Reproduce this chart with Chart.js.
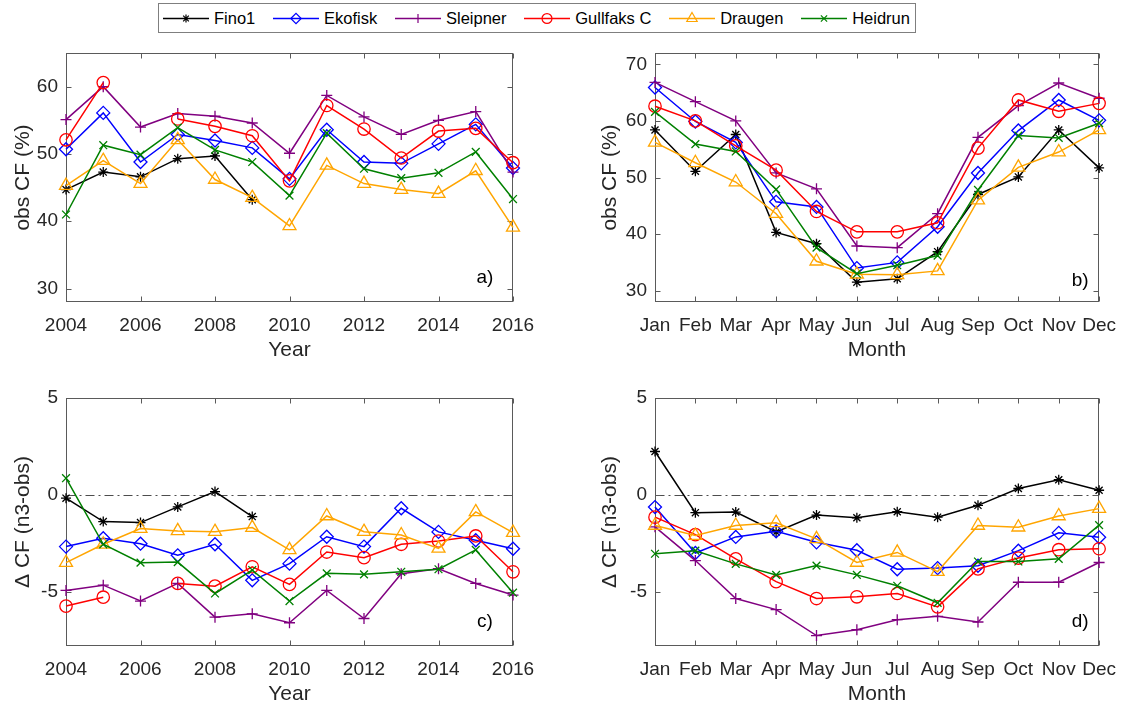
<!DOCTYPE html>
<html>
<head>
<meta charset="utf-8">
<script src="https://cdn.jsdelivr.net/npm/chart.js@4.4.1/dist/chart.umd.min.js"></script>
<style>
  html, body { margin: 0; padding: 0; background: #fff; }
  body { width: 1128px; height: 709px; position: relative; overflow: hidden; font-family: "Liberation Sans", Arial, sans-serif; }
  canvas.panel { position: absolute; }
  #legend { position: absolute; left: 158px; top: 3px; width: 758px; height: 30px; box-sizing: border-box;
            border: 1px solid #7f7f7f; background: #fff; display: flex; align-items: center;
            justify-content: space-between; padding: 0 5px 0 4px;
            font-size: 16.5px; color: #000; z-index: 2; white-space: nowrap; }
  .item { display: flex; align-items: center; flex-shrink: 0; }
  .item canvas { margin-right: 5px; }
</style>
</head>
<body>
<div id="legend"></div>
<canvas class="panel" id="pa" width="564" height="365" style="left:0;top:0"></canvas>
<canvas class="panel" id="pb" width="564" height="365" style="left:564px;top:0"></canvas>
<canvas class="panel" id="pc" width="564" height="364" style="left:0;top:345px"></canvas>
<canvas class="panel" id="pd" width="564" height="364" style="left:564px;top:345px"></canvas>
<script>
// ---- data ----
const sites = ['Fino1', 'Ekofisk', 'Sleipner', 'Gullfaks C', 'Draugen', 'Heidrun'];
const years = [2004, 2005, 2006, 2007, 2008, 2009, 2010, 2011, 2012, 2013, 2014, 2015, 2016];
const months = ['Jan', 'Feb', 'Mar', 'Apr', 'May', 'Jun', 'Jul', 'Aug', 'Sep', 'Oct', 'Nov', 'Dec'];

const yearTicks = [2004, 2006, 2008, 2010, 2012, 2014, 2016];
const obsYearTicks = [30, 40, 50, 60];
const obsMonthTicks = [30, 40, 50, 60, 70];
const diffTicks = [-5, 0, 5];

// a) observed CF per year, rows in the order of `sites`
const obsByYear = [
  [44.7, 47.3, 46.6, 49.3, 49.7, 43.2, null, null, null, null, null, null, null],
  [50.7, 56.1, 48.8, 52.9, 52.0, 50.9, 46.3, 53.6, 48.8, 48.6, 51.5, 54.4, 47.9],
  [55.1, 60.0, 54.0, 56.0, 55.6, 54.6, 50.1, 58.7, 55.5, 52.9, 55.0, 56.3, 47.3],
  [52.1, 60.6, null, 55.2, 54.1, 52.7, 46.0, 57.2, 53.7, 49.4, 53.4, 53.8, 48.7],
  [45.3, 49.0, 45.6, 52.1, 46.2, 43.5, 39.3, 48.3, 45.6, 44.7, 44.1, 47.5, 39.1],
  [41.0, 51.3, 49.9, 53.9, 50.6, 48.8, 43.8, 53.1, 47.8, 46.4, 47.2, 50.3, 43.3]
];

// b) observed CF per month
const obsByMonth = [
  [58.4, 51.1, 57.6, 40.3, 38.3, 31.5, 32.1, 36.9, 47.0, 50.1, 58.4, 51.7],
  [65.9, 59.9, 56.2, 45.7, 44.8, 34.0, 35.0, 41.3, 50.8, 58.3, 63.7, 60.1],
  [66.8, 63.4, 60.0, 50.8, 48.0, 37.9, 37.6, 43.6, 57.1, 62.7, 66.7, 64.0],
  [62.6, 60.0, 55.6, 51.3, 44.0, 40.4, 40.4, 42.0, 55.2, 63.7, 61.7, 63.1],
  [56.2, 52.6, 49.2, 43.6, 35.2, 32.9, 32.8, 33.5, 46.0, 51.8, 54.5, 58.4],
  [61.6, 55.9, 54.6, 47.9, 37.6, 33.0, 34.5, 36.2, 47.8, 57.4, 57.0, 59.6]
];

// c) CF difference (n3 - obs) per year
const diffByYear = [
  [-0.17, -1.38, -1.43, -0.62, 0.17, -1.12, null, null, null, null, null, null, null],
  [-2.67, -2.24, -2.52, -3.12, -2.55, -4.41, -3.55, -2.16, -2.67, -0.69, -1.91, -2.34, -2.78],
  [-4.93, -4.66, -5.48, -4.57, -6.31, -6.14, -6.60, -4.93, -6.38, -4.07, -3.81, -4.57, -5.17],
  [-5.74, -5.28, null, -4.57, -4.71, -3.71, -4.62, -2.95, -3.24, -2.55, -2.38, -2.12, -3.97],
  [-3.50, -2.55, -1.74, -1.86, -1.90, -1.69, -2.84, -1.09, -1.90, -2.07, -2.76, -0.88, -1.95],
  [0.86, -2.55, -3.50, -3.47, -5.09, -3.88, -5.48, -4.05, -4.10, -3.97, -3.84, -2.84, -5.05]
];

// d) CF difference (n3 - obs) per month
const diffByMonth = [
  [2.24, -0.92, -0.89, -1.91, -1.04, -1.18, -0.87, -1.15, -0.54, 0.33, 0.78, 0.24],
  [-0.63, -3.00, -2.17, -1.88, -2.45, -2.86, -3.84, -3.78, -3.66, -2.88, -1.96, -2.19],
  [-1.65, -3.39, -5.35, -5.92, -7.26, -6.96, -6.44, -6.27, -6.56, -4.51, -4.51, -3.49],
  [-1.15, -2.05, -3.30, -4.48, -5.35, -5.26, -5.09, -5.78, -3.82, -3.26, -2.83, -2.78],
  [-1.58, -2.10, -1.58, -1.44, -2.27, -3.49, -2.97, -3.96, -1.58, -1.67, -1.09, -0.71],
  [-3.04, -2.88, -3.56, -4.13, -3.65, -4.13, -4.69, -5.57, -3.44, -3.44, -3.30, -1.56]
];

// ---- styles ----
const siteColors = ['#000000', '#0000ff', '#800080', '#ff0000', '#ffa500', '#008000'];
const siteMarkers = ['star', 'rectRot', 'cross', 'circle', 'triangle', 'crossRot'];
const markerRadius = [5, 6.5, 5.5, 6.2, 7.5, 5.5];

const FONT = '"Liberation Sans", Arial, sans-serif';
const TEXT = '#262626';
const AXIS = '#5a5a5a';
Chart.defaults.font.family = FONT;

// box, inward ticks, zero line and panel letter, drawn like the original figure
const matlabAxes = {
  id: 'matlabAxes',
  beforeDatasetsDraw(chart, args, opts) {
    const { ctx, chartArea: a, scales: { x, y } } = chart;
    const L = Math.round(a.left) + 0.5, R = Math.round(a.right) - 0.5;
    const T = Math.round(a.top) + 0.5, B = Math.round(a.bottom) - 0.5;
    const tk = 5;
    ctx.save();
    if (opts.zeroLine) {
      const y0 = Math.round(y.getPixelForValue(0)) + 0.5;
      ctx.strokeStyle = '#4d4d4d';
      ctx.lineWidth = 1;
      ctx.setLineDash([9, 4, 2, 4]);
      ctx.beginPath(); ctx.moveTo(L, y0); ctx.lineTo(R, y0); ctx.stroke();
      ctx.setLineDash([]);
    }
    ctx.strokeStyle = AXIS;
    ctx.lineWidth = 1;
    ctx.strokeRect(L, T, R - L, B - T);
    ctx.beginPath();
    x.ticks.forEach((t, i) => {
      const px = Math.round(x.getPixelForTick(i)) + 0.5;
      ctx.moveTo(px, B); ctx.lineTo(px, B - tk);
      ctx.moveTo(px, T); ctx.lineTo(px, T + tk);
    });
    y.ticks.forEach((t, i) => {
      const py = Math.round(y.getPixelForTick(i)) + 0.5;
      ctx.moveTo(L, py); ctx.lineTo(L + tk, py);
      ctx.moveTo(R, py); ctx.lineTo(R - tk, py);
    });
    ctx.stroke();
    ctx.restore();
  },
  afterDatasetsDraw(chart, args, opts) {
    const { ctx, chartArea: a } = chart;
    ctx.save();
    ctx.fillStyle = '#000';
    ctx.font = '19px ' + FONT;
    ctx.textAlign = 'center';
    ctx.textBaseline = 'middle';
    ctx.fillText(opts.letter, a.right - opts.letterDx, a.bottom - opts.letterDy);
    ctx.restore();
  }
};

function makeDatasets(rows, xs) {
  return rows.map((vals, i) => ({
    label: sites[i],
    data: xs ? xs.map((v, j) => ({ x: v, y: vals[j] })) : vals,
    borderColor: siteColors[i],
    backgroundColor: 'rgba(0,0,0,0)',
    borderWidth: 1.5,
    pointStyle: siteMarkers[i],
    pointRadius: markerRadius[i],
    pointBorderWidth: 1.3,
    pointBorderColor: siteColors[i],
    pointBackgroundColor: 'rgba(0,0,0,0)',
    tension: 0,
    spanGaps: false,
    clip: false,
    order: sites.length - i
  }));
}

function makePanel(id, p) {
  const xScale = p.byYear ? {
    type: 'linear', min: years[0], max: years[years.length - 1],
    afterBuildTicks: s => { s.ticks = yearTicks.map(v => ({ value: v })); },
    ticks: { color: TEXT, font: { size: 19 }, padding: 12, maxRotation: 0, callback: v => String(v) }
  } : {
    type: 'category', offset: false,
    ticks: { color: TEXT, font: { size: 19 }, padding: 12, maxRotation: 0, autoSkip: false }
  };
  Object.assign(xScale, {
    grid: { display: false, drawTicks: false },
    border: { display: false },
    title: { display: true, text: p.xTitle, color: TEXT, font: { size: 21 }, padding: { top: 0, bottom: 2 } },
    afterFit: s => { s.height = 63; }
  });
  new Chart(document.getElementById(id), {
    type: 'line',
    data: {
      labels: p.byYear ? undefined : months,
      datasets: makeDatasets(p.rows, p.byYear ? years : null)
    },
    options: {
      responsive: false,
      animation: false,
      layout: { padding: { left: p.padL, right: p.padR, top: 53, bottom: 0 } },
      scales: {
        x: xScale,
        y: {
          min: p.yMin, max: p.yMax,
          afterBuildTicks: s => { s.ticks = p.yTicks.map(v => ({ value: v })); },
          grid: { display: false, drawTicks: false },
          border: { display: false },
          ticks: { color: TEXT, font: { size: 19 }, padding: 8 },
          title: { display: true, text: p.yTitle, color: TEXT, font: { size: 21 }, padding: { top: 0, bottom: 0 } },
          afterFit: s => { s.width = p.yWidth; }
        }
      },
      plugins: {
        legend: { display: false },
        tooltip: { enabled: false },
        matlabAxes: { letter: p.letter, letterDx: p.letterDx, letterDy: p.letterDy, zeroLine: p.zeroLine }
      }
    },
    plugins: [matlabAxes]
  });
}

makePanel('pa', { byYear: true, rows: obsByYear, yMin: 28, yMax: 65, yTicks: obsYearTicks,
  xTitle: 'Year', yTitle: 'obs CF (%)', letter: 'a)', letterDx: 28, letterDy: 24,
  padL: 11, padR: 51, yWidth: 55, zeroLine: false });
makePanel('pb', { byYear: false, rows: obsByMonth, yMin: 28, yMax: 72, yTicks: obsMonthTicks,
  xTitle: 'Month', yTitle: 'obs CF (%)', letter: 'b)', letterDx: 19, letterDy: 21,
  padL: 34, padR: 25, yWidth: 57, zeroLine: false });
makePanel('pc', { byYear: true, rows: diffByYear, yMin: -7.8, yMax: 5, yTicks: diffTicks,
  xTitle: 'Year', yTitle: '\u0394 CF (n3-obs)', letter: 'c)', letterDx: 28, letterDy: 24,
  padL: 11, padR: 51, yWidth: 55, zeroLine: true });
makePanel('pd', { byYear: false, rows: diffByMonth, yMin: -7.8, yMax: 5, yTicks: diffTicks,
  xTitle: 'Month', yTitle: '\u0394 CF (n3-obs)', letter: 'd)', letterDx: 19, letterDy: 24,
  padL: 34, padR: 25, yWidth: 57, zeroLine: true });

// ---- legend (line sample + marker, like the figure legend) ----
const legendEl = document.getElementById('legend');
const drawPoint = Chart.helpers && Chart.helpers.drawPoint;
sites.forEach((name, i) => {
  const item = document.createElement('div');
  item.className = 'item';
  const c = document.createElement('canvas');
  c.width = 46; c.height = 20;
  const g = c.getContext('2d');
  g.strokeStyle = siteColors[i];
  g.lineWidth = 1.5;
  g.beginPath(); g.moveTo(0, 10.5); g.lineTo(46, 10.5); g.stroke();
  g.fillStyle = 'rgba(0,0,0,0)';
  g.lineWidth = 1.2;
  if (drawPoint) {
    drawPoint(g, { pointStyle: siteMarkers[i], radius: markerRadius[i] * 0.8, rotation: 0, borderWidth: 1.2 }, 23, 10.5);
  }
  const span = document.createElement('span');
  span.textContent = name;
  item.appendChild(c);
  item.appendChild(span);
  legendEl.appendChild(item);
});
</script>
</body>
</html>
